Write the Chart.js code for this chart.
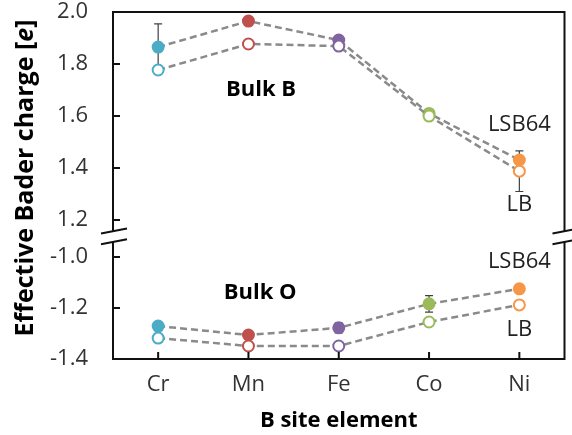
<!DOCTYPE html>
<html>
<head>
<meta charset="utf-8">
<script src="https://cdn.jsdelivr.net/npm/chart.js@4.4.1/dist/chart.umd.min.js"></script>
<style>
  html, body { margin: 0; padding: 0; background: #fff; }
  canvas { display: block; }
</style>
</head>
<body>
<canvas id="chart" width="572" height="435"></canvas>
<script>
const elements = ['Cr', 'Mn', 'Fe', 'Co', 'Ni'];
const elementColors = ['#4BACC6', '#C0504D', '#8064A2', '#9BBB59', '#F79646'];

// Bulk B site charges
const bulkB_LSB64 = [1.865, 1.965, 1.892, 1.61, 1.431];
const bulkB_LB = [1.777, 1.877, 1.869, 1.60, 1.388];
const bulkB_LSB64_err = [0.089, 0, 0, 0.01, 0];
const bulkB_LB_err = [0, 0, 0, 0, 0.078];

// Bulk O charges
const bulkO_LSB64 = [-1.271, -1.306, -1.278, -1.184, -1.125];
const bulkO_LB = [-1.318, -1.349, -1.349, -1.255, -1.188];
const bulkO_LSB64_err = [0.018, 0, 0.02, 0.032, 0];
const bulkO_LB_err = [0, 0, 0, 0, 0];

const topTicks = [1.2, 1.4, 1.6, 1.8, 2.0];
const bottomTicks = [-1.4, -1.2, -1.0];

// where the two panels stop around the break
const topPanelEnd = 1.158;
const bottomPanelStart = -0.941;

// text labels placed in data space (category index, value, axis)
const notes = [
    { text: 'Bulk B', idx: 1.14, val: 1.70, axis: 'yTop', bold: true },
    { text: 'LSB64', idx: 4, val: 1.565, axis: 'yTop' },
    { text: 'LB', idx: 4, val: 1.258, axis: 'yTop' },
    { text: 'Bulk O', idx: 1.13, val: -1.141, axis: 'yBot', bold: true },
    { text: 'LSB64', idx: 4, val: -1.02, axis: 'yBot' },
    { text: 'LB', idx: 4, val: -1.286, axis: 'yBot' }
];

const FONT = "'Open Sans', 'Noto Sans', sans-serif";
const lineGray = '#8a8a8a';

function makeSet(label, data, axis, filled, order) {
    return {
        label: label,
        data: data,
        yAxisID: axis,
        order: order,
        borderColor: lineGray,
        borderWidth: 2.5,
        borderDash: [7, 4],
        fill: false,
        tension: 0,
        pointRadius: 5.5,
        pointBorderWidth: 2,
        pointBorderColor: elementColors,
        pointBackgroundColor: filled ? elementColors : '#ffffff'
    };
}

const errorSets = [
    { data: bulkB_LSB64, err: bulkB_LSB64_err, axis: 'yTop' },
    { data: bulkB_LB, err: bulkB_LB_err, axis: 'yTop' },
    { data: bulkO_LSB64, err: bulkO_LSB64_err, axis: 'yBot' },
    { data: bulkO_LB, err: bulkO_LB_err, axis: 'yBot' }
];

function noPadding(s) {
    s.paddingTop = 0;
    s.paddingBottom = 0;
    s.paddingLeft = 0;
    s.paddingRight = 0;
}

const brokenAxisPlugin = {
    id: 'brokenAxis',
    beforeDatasetsDraw(chart) {
        const ctx = chart.ctx;
        const x = chart.scales.x;
        ctx.save();
        ctx.strokeStyle = '#404040';
        ctx.lineWidth = 1.2;
        errorSets.forEach(set => {
            const y = chart.scales[set.axis];
            set.data.forEach((v, i) => {
                const e = set.err[i];
                if (!e) return;
                const px = x.getPixelForValue(i);
                const y1 = y.getPixelForValue(v + e);
                const y2 = y.getPixelForValue(v - e);
                ctx.beginPath();
                ctx.moveTo(px, y1); ctx.lineTo(px, y2);
                ctx.moveTo(px - 4, y1); ctx.lineTo(px + 4, y1);
                ctx.moveTo(px - 4, y2); ctx.lineTo(px + 4, y2);
                ctx.stroke();
            });
        });
        ctx.restore();
    },
    afterDraw(chart) {
        const ctx = chart.ctx;
        const area = chart.chartArea;
        const x = chart.scales.x;
        const yTop = chart.scales.yTop;
        const yBot = chart.scales.yBot;
        const topEnd = yTop.getPixelForValue(topPanelEnd);
        const botStart = yBot.getPixelForValue(bottomPanelStart);

        ctx.save();
        ctx.strokeStyle = '#111';
        ctx.lineWidth = 2;
        ctx.lineCap = 'butt';
        ctx.beginPath();
        // top panel: top border + sides
        ctx.moveTo(area.left, topEnd); ctx.lineTo(area.left, area.top);
        ctx.lineTo(area.right, area.top); ctx.lineTo(area.right, topEnd);
        // bottom panel: sides + bottom border
        ctx.moveTo(area.left, botStart); ctx.lineTo(area.left, area.bottom);
        ctx.lineTo(area.right, area.bottom); ctx.lineTo(area.right, botStart);
        // inside ticks
        topTicks.forEach(v => {
            const py = yTop.getPixelForValue(v);
            ctx.moveTo(area.left, py); ctx.lineTo(area.left + 7, py);
        });
        bottomTicks.forEach(v => {
            const py = yBot.getPixelForValue(v);
            ctx.moveTo(area.left, py); ctx.lineTo(area.left + 7, py);
        });
        elements.forEach((c, i) => {
            const px = x.getPixelForValue(i);
            ctx.moveTo(px, area.bottom); ctx.lineTo(px, area.bottom - 7);
        });
        ctx.stroke();

        // break marks
        ctx.beginPath();
        [area.left, area.right].forEach(x0 => {
            [topEnd, botStart].forEach(y0 => {
                ctx.moveTo(x0 - 12, y0 + 2.5);
                ctx.lineTo(x0 + 14, y0 - 2.5);
            });
        });
        ctx.stroke();

        // text labels
        ctx.textAlign = 'center';
        ctx.textBaseline = 'middle';
        notes.forEach(n => {
            ctx.fillStyle = n.bold ? '#000' : '#222';
            ctx.font = (n.bold ? 'bold 22px ' : '22px ') + FONT;
            ctx.fillText(n.text, x.getPixelForValue(n.idx), chart.scales[n.axis].getPixelForValue(n.val));
        });

        // y title with italic e
        const parts = [
            { t: 'Effective Bader charge [', f: 'bold 25px ' + FONT },
            { t: 'e', f: 'italic bold 25px ' + FONT },
            { t: ']', f: 'bold 25px ' + FONT }
        ];
        let total = 0;
        parts.forEach(p => { ctx.font = p.f; p.w = ctx.measureText(p.t).width; total += p.w; });
        ctx.translate(26, 178);
        ctx.rotate(-Math.PI / 2);
        ctx.textAlign = 'left';
        ctx.fillStyle = '#000';
        let cx = -total / 2;
        parts.forEach(p => { ctx.font = p.f; ctx.fillText(p.t, cx, 0); cx += p.w; });
        ctx.restore();
    }
};

const tickFont = { family: FONT, size: 22 };

new Chart(document.getElementById('chart'), {
    type: 'line',
    data: {
        labels: elements,
        datasets: [
            makeSet('LB', bulkB_LB, 'yTop', false, 0),
            makeSet('LSB64', bulkB_LSB64, 'yTop', true, 1),
            makeSet('LB', bulkO_LB, 'yBot', false, 0),
            makeSet('LSB64', bulkO_LSB64, 'yBot', true, 1)
        ]
    },
    options: {
        responsive: false,
        animation: false,
        events: [],
        layout: { padding: { top: 12, right: 7, left: 0, bottom: 0 } },
        plugins: { legend: { display: false }, tooltip: { enabled: false } },
        scales: {
            x: {
                offset: true,
                grid: { display: false, drawTicks: false },
                border: { display: false },
                ticks: { font: tickFont, color: '#333', padding: 13 },
                title: {
                    display: true,
                    text: 'B site element',
                    font: { family: FONT, size: 22, weight: 'bold' },
                    color: '#000',
                    padding: { top: 0, bottom: 1 }
                },
                afterFit: s => { s.height = 76; noPadding(s); }
            },
            yBot: {
                type: 'linear',
                position: 'left',
                stack: 'charge',
                stackWeight: 122,
                min: -1.4,
                max: -0.922,
                grid: { display: false, drawTicks: false },
                border: { display: false },
                ticks: {
                    font: tickFont, color: '#333', padding: 25, includeBounds: false,
                    callback: v => v.toFixed(1)
                },
                afterBuildTicks: s => { s.ticks = bottomTicks.map(v => ({ value: v })); },
                afterFit: s => { s.width = 113; noPadding(s); }
            },
            yTop: {
                type: 'linear',
                position: 'left',
                stack: 'charge',
                stackWeight: 225,
                min: 1.135,
                max: 2.0,
                grid: { display: false, drawTicks: false },
                border: { display: false },
                ticks: {
                    font: tickFont, color: '#333', padding: 25, includeBounds: false,
                    callback: v => v.toFixed(1)
                },
                afterBuildTicks: s => { s.ticks = topTicks.map(v => ({ value: v })); },
                afterFit: s => { s.width = 113; noPadding(s); }
            }
        }
    },
    plugins: [brokenAxisPlugin]
});
</script>
</body>
</html>
